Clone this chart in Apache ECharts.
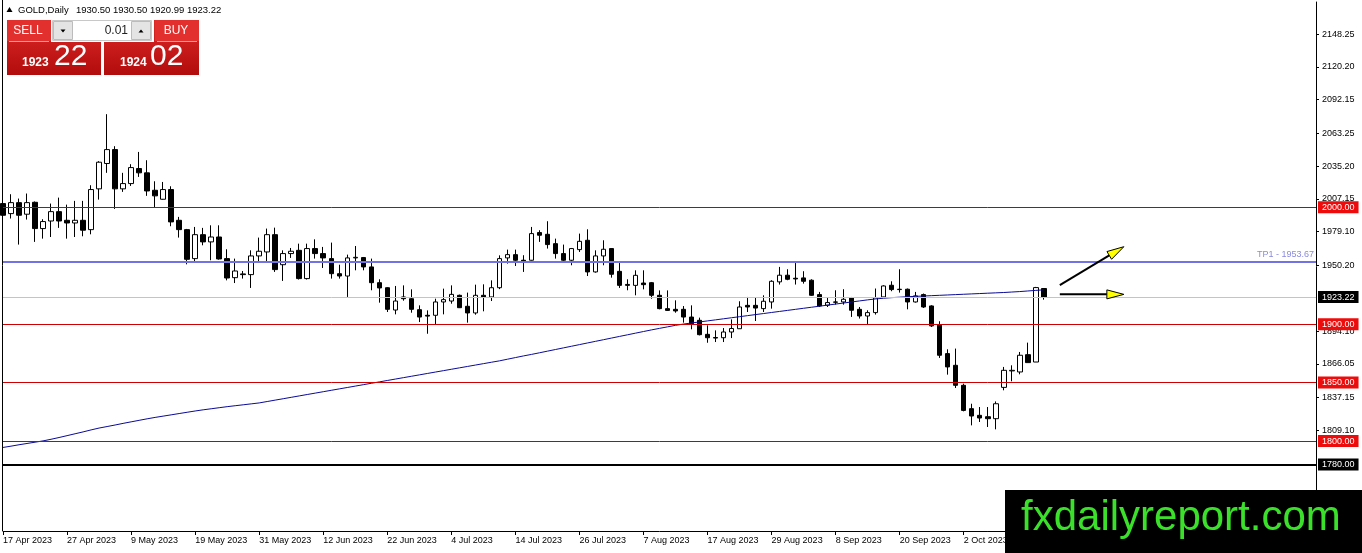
<!DOCTYPE html>
<html><head><meta charset="utf-8">
<script src="https://cdn.jsdelivr.net/npm/echarts@6/dist/echarts.min.js"></script>
<style>html,body{margin:0;padding:0;background:#fff}#c{width:1362px;height:553px}</style>
</head><body><div id="c"></div>
<script>
const dates = [
'17 Apr 2023','18 Apr 2023','19 Apr 2023','20 Apr 2023','21 Apr 2023','24 Apr 2023','25 Apr 2023','26 Apr 2023','27 Apr 2023','28 Apr 2023',
'1 May 2023','2 May 2023','3 May 2023','4 May 2023','5 May 2023','8 May 2023','9 May 2023','10 May 2023','11 May 2023','12 May 2023','15 May 2023','16 May 2023','17 May 2023','18 May 2023','19 May 2023','22 May 2023','23 May 2023','24 May 2023','25 May 2023','26 May 2023','29 May 2023','30 May 2023','31 May 2023',
'1 Jun 2023','2 Jun 2023','5 Jun 2023','6 Jun 2023','7 Jun 2023','8 Jun 2023','9 Jun 2023','12 Jun 2023','13 Jun 2023','14 Jun 2023','15 Jun 2023','16 Jun 2023','19 Jun 2023','20 Jun 2023','21 Jun 2023','22 Jun 2023','23 Jun 2023','26 Jun 2023','27 Jun 2023','28 Jun 2023','29 Jun 2023','30 Jun 2023',
'3 Jul 2023','4 Jul 2023','5 Jul 2023','6 Jul 2023','7 Jul 2023','10 Jul 2023','11 Jul 2023','12 Jul 2023','13 Jul 2023','14 Jul 2023','17 Jul 2023','18 Jul 2023','19 Jul 2023','20 Jul 2023','21 Jul 2023','24 Jul 2023','25 Jul 2023','26 Jul 2023','27 Jul 2023','28 Jul 2023','31 Jul 2023',
'1 Aug 2023','2 Aug 2023','3 Aug 2023','4 Aug 2023','7 Aug 2023','8 Aug 2023','9 Aug 2023','10 Aug 2023','11 Aug 2023','14 Aug 2023','15 Aug 2023','16 Aug 2023','17 Aug 2023','18 Aug 2023','21 Aug 2023','22 Aug 2023','23 Aug 2023','24 Aug 2023','25 Aug 2023','28 Aug 2023','29 Aug 2023','30 Aug 2023','31 Aug 2023',
'1 Sep 2023','4 Sep 2023','5 Sep 2023','6 Sep 2023','7 Sep 2023','8 Sep 2023','11 Sep 2023','12 Sep 2023','13 Sep 2023','14 Sep 2023','15 Sep 2023','18 Sep 2023','19 Sep 2023','20 Sep 2023','21 Sep 2023','22 Sep 2023','25 Sep 2023','26 Sep 2023','27 Sep 2023','28 Sep 2023','29 Sep 2023',
'2 Oct 2023','3 Oct 2023','4 Oct 2023','5 Oct 2023','6 Oct 2023','9 Oct 2023','10 Oct 2023','11 Oct 2023','12 Oct 2023','13 Oct 2023','16 Oct 2023'];
const emptySlots = 34; // blank space to the right of the last bar

const open = [2003.2,1994.6,2004.0,1994.1,2004.3,1981.8,1988.3,1996.3,1988.9,1986.6,
1988.9,1980.9,2015.8,2037.5,2049.4,2015.8,2020.3,2033.2,2029.5,2014.6,
2006.9,2015.2,1988.9,1980.9,1956.1,1976.6,1970.4,1974.6,1956.1,1939.8,
1943.0,1942.4,1958.4,1961.8,1976.6,1950.9,1960.4,1963.2,1939.0,1964.7,
1960.4,1956.1,1943.2,1941.2,1956.7,1957.0,1949.0,1935.5,1931.2,1912.1,
1923.3,1921.8,1912.4,1907.6,1907.6,1919.0,1919.8,1924.7,1915.3,1909.6,
1924.7,1923.3,1931.2,1956.7,1959.5,1954.7,1954.7,1978.4,1976.9,1968.9,
1960.4,1954.7,1963.8,1971.8,1944.7,1958.4,1964.7,1945.2,1934.0,1933.2,
1935.2,1935.5,1924.7,1913.3,1912.7,1912.7,1906.1,1903.3,1891.3,1888.6,
1888.4,1893.3,1896.1,1916.1,1916.1,1913.3,1919.0,1936.2,1941.9,1939.3,
1939.6,1937.6,1925.3,1916.2,1919.0,1919.0,1922.5,1912.7,1907.0,1909.9,
1923.3,1933.3,1929.9,1929.9,1919.0,1925.3,1915.6,1899.6,1874.8,1864.8,
1847.7,1827.7,1822.0,1820.8,1819.1,1845.9,1860.0,1859.1,1873.9,1867.6,
1930.50];
const close = [1993.2,2004.0,1993.2,2004.0,1981.8,1987.8,1996.3,1988.3,1986.6,1988.9,
1980.4,2015.2,2038.6,2049.4,2015.8,2020.3,2034.0,2029.5,2014.0,2009.8,
2015.2,1987.5,1980.9,1955.5,1976.6,1970.4,1974.6,1955.8,1939.5,1945.5,
1942.4,1958.4,1962.4,1976.6,1946.7,1960.4,1962.4,1939.0,1964.7,1960.4,
1956.7,1943.2,1941.2,1956.7,1957.2,1949.0,1935.5,1931.0,1912.7,1919.8,
1921.8,1912.7,1906.1,1906.9,1919.0,1921.0,1925.5,1914.1,1909.6,1924.7,
1923.3,1931.2,1956.1,1959.5,1954.7,1954.1,1977.5,1976.1,1968.1,1960.4,
1954.7,1964.7,1970.9,1944.7,1958.4,1964.1,1942.7,1933.2,1933.2,1941.8,
1933.8,1924.7,1913.3,1911.8,1911.3,1906.1,1900.4,1891.0,1888.4,1888.1,
1893.3,1896.3,1914.7,1914.7,1913.8,1919.6,1936.7,1941.9,1938.4,1938.7,
1936.7,1924.7,1915.6,1918.5,1918.8,1921.3,1911.9,1907.0,1909.9,1922.5,
1932.7,1929.6,1929.6,1919.0,1924.2,1914.7,1898.5,1873.4,1863.4,1847.7,
1826.2,1821.4,1819.7,1819.1,1831.9,1860.5,1860.5,1873.4,1867.1,1931.3,
1923.22];
const low = [1979.8,1990.4,1968.1,1989.5,1970.4,1973.2,1974.6,1982.4,1973.2,1974.6,
1975.2,1976.9,2006.6,2029.5,1998.6,2013.2,2018.3,2026.0,2009.8,1999.8,
2006.6,1983.8,1974.1,1951.2,1952.7,1967.5,1954.7,1955.2,1937.5,1935.2,
1939.0,1931.0,1952.7,1952.4,1944.7,1937.0,1956.7,1938.2,1938.2,1956.1,
1948.1,1939.0,1939.0,1923.3,1946.1,1946.1,1929.0,1918.4,1910.4,1908.4,
1920.1,1909.8,1901.8,1891.8,1899.8,1908.4,1917.5,1913.8,1901.3,1908.1,
1911.0,1919.8,1930.0,1951.8,1949.8,1944.7,1954.4,1970.4,1964.7,1956.1,
1952.7,1950.4,1961.8,1941.2,1944.1,1950.4,1939.8,1931.0,1929.0,1924.7,
1929.8,1921.8,1912.7,1911.5,1909.8,1901.3,1895.6,1890.4,1884.1,1884.7,
1884.7,1888.1,1896.0,1910.4,1902.7,1910.4,1913.3,1933.9,1937.6,1933.9,
1934.7,1924.2,1914.7,1914.7,1916.7,1916.7,1906.2,1904.8,1899.6,1908.2,
1922.5,1928.2,1927.0,1912.7,1918.5,1913.9,1897.6,1871.1,1856.8,1845.4,
1825.4,1813.4,1816.3,1812.0,1810.0,1843.4,1851.1,1857.1,1867.1,1867.6,
1920.99];
const high = [2015.2,2011.2,2007.5,2011.8,2005.0,1989.8,2003.2,2008.3,2002.3,2005.5,
2005.5,2018.9,2039.5,2079.7,2052.3,2029.5,2036.9,2047.4,2040.3,2022.3,
2021.7,2018.0,1991.8,1981.5,1983.2,1982.4,1984.6,1984.6,1964.1,1956.1,
1945.5,1963.2,1974.1,1981.8,1982.6,1963.2,1965.2,1968.9,1968.9,1972.6,
1966.1,1969.8,1950.9,1959.5,1966.9,1957.5,1956.1,1938.4,1931.6,1932.7,
1933.2,1929.8,1916.1,1911.8,1921.8,1930.4,1933.2,1925.3,1927.0,1933.8,
1934.1,1937.5,1958.9,1963.8,1963.8,1959.0,1983.2,1980.4,1988.1,1973.2,
1968.1,1965.2,1977.5,1981.2,1963.2,1971.8,1964.9,1953.2,1938.4,1946.1,
1946.1,1936.1,1928.9,1928.9,1920.4,1915.5,1916.1,1905.6,1899.0,1894.7,
1896.7,1904.1,1919.6,1923.3,1922.4,1924.7,1937.6,1949.0,1947.0,1952.7,
1945.3,1938.4,1927.6,1922.5,1929.0,1929.9,1923.3,1914.7,1911.9,1930.5,
1933.3,1936.7,1947.0,1930.5,1927.6,1926.2,1916.2,1902.5,1878.5,1879.1,
1849.1,1831.9,1829.1,1829.1,1833.9,1863.4,1864.8,1876.2,1884.2,1931.9,
1930.50];
const movingAverage = [1794.5,1795.6,1796.8,1797.9,1799.0,1800.1,1801.5,1803.0,1804.6,1806.2,
1807.8,1809.5,1811.1,1812.4,1813.7,1815.1,1816.4,1817.7,1819.0,1820.2,
1821.3,1822.4,1823.5,1824.6,1825.7,1826.7,1827.6,1828.5,1829.4,1830.2,
1831.0,1831.8,1832.6,1833.8,1835.0,1836.2,1837.4,1838.6,1839.8,1841.0,
1842.2,1843.4,1844.6,1845.8,1847.0,1848.2,1849.4,1850.6,1851.8,1853.0,
1854.2,1855.4,1856.6,1857.8,1859.0,1860.2,1861.4,1862.6,1863.8,1865.0,
1866.2,1867.4,1868.6,1870.0,1871.4,1872.8,1874.1,1875.5,1876.9,1878.3,
1879.7,1881.1,1882.5,1883.9,1885.3,1886.7,1888.1,1889.5,1890.9,1892.3,
1893.7,1895.1,1896.4,1897.7,1899.0,1900.1,1901.0,1901.9,1902.8,1903.7,
1904.6,1905.5,1906.4,1907.3,1908.2,1909.1,1910.0,1910.9,1911.8,1912.7,
1913.6,1914.5,1915.4,1916.3,1917.2,1918.1,1919.0,1919.9,1920.8,1921.6,
1922.2,1922.7,1923.1,1923.5,1923.8,1924.1,1924.4,1924.7,1925.0,1925.3,
1925.6,1925.9,1926.2,1926.5,1926.8,1927.1,1927.5,1927.9,1928.4,1928.9,
1929.4];

const yTicks = [2148.25, 2120.20, 2092.15, 2063.25, 2035.20, 2007.15, 1979.10, 1950.20, 1894.10, 1866.05, 1837.15, 1809.10];
const redLevels = [2000, 1900, 1850, 1800];
const tpLevel = 1953.67;
const tpText = 'TP1 - 1953.67';
const bidPrice = 1923.22;
const baseLevel = 1780;
// arrows: [fromBar, fromPrice, toBar, toPrice]
const arrows = [[132, 1933.5, 140, 1966.3], [132, 1925.5, 140, 1925.5]];
const headerSymbol = 'GOLD,Daily';
const headerPrices = '1930.50 1930.50 1920.99 1923.22';
const sellBig = '22', sellSmall = '1923', buyBig = '02', buySmall = '1924', lotSize = '0.01';
const watermark = 'fxdailyreport.com';

const FONT = 'Liberation Sans';
const categories = dates.concat(new Array(emptySlots).fill(''));
const ohlc = dates.map((d, i) => [open[i], close[i], low[i], high[i]]);

function boxLabel(bg) {
  return { show: true, position: 'end', distance: 2, color: '#fff', backgroundColor: bg,
    padding: [1, 4, 0, 4], fontSize: 9, lineHeight: 11, fontFamily: FONT,
    formatter: p => Number(p.value).toFixed(2) };
}
const markData = redLevels.map(v => ({ yAxis: v, lineStyle: { color: '#cc0000', width: 1, type: 'solid' }, label: boxLabel('#ee0b0b') }));
markData.push({ yAxis: tpLevel, lineStyle: { color: '#7272e4', width: 2, type: 'solid' },
  label: { show: true, position: 'insideEndTop', distance: 2, color: '#8a8ae0', fontSize: 9, fontFamily: FONT, formatter: tpText } });
markData.push({ yAxis: bidPrice, lineStyle: { color: '#c4c4c4', width: 1, type: 'solid' }, label: boxLabel('#000') });
markData.push({ yAxis: baseLevel, lineStyle: { color: '#000', width: 2, type: 'solid' }, label: boxLabel('#000') });

const chart = echarts.init(document.getElementById('c'), null, { renderer: 'canvas' });
const redGrad = { type: 'linear', x: 0, y: 0, x2: 0, y2: 1, colorStops: [{ offset: 0, color: '#dc2a28' }, { offset: 1, color: '#b20c0c' }] };

chart.setOption({
  animation: false,
  backgroundColor: '#fff',
  textStyle: { fontFamily: FONT },
  grid: { left: 3, right: 46, top: 2, bottom: 22, containLabel: false, outerBoundsMode: 'none' },
  xAxis: {
    type: 'category', data: categories, boundaryGap: false,
    axisLine: { show: true, lineStyle: { color: '#000', width: 1 } },
    axisTick: { show: true, interval: 7, length: 4, lineStyle: { color: '#000' } },
    axisLabel: { interval: 7, align: 'left', fontSize: 9, color: '#000', margin: 5, fontFamily: FONT },
    splitLine: { show: false }
  },
  yAxis: {
    type: 'value', position: 'right', min: 1723.0, max: 2175.7, scale: true,
    splitLine: { show: false },
    axisLine: { show: true, lineStyle: { color: '#000', width: 1 } },
    axisTick: { show: true, length: 3, customValues: yTicks, lineStyle: { color: '#000' } },
    axisLabel: { customValues: yTicks, formatter: v => Number(v).toFixed(2), fontSize: 9, color: '#000', margin: 6, fontFamily: FONT }
  },
  series: [
    {
      type: 'candlestick', data: ohlc, barWidth: 5, clip: true,
      itemStyle: { color: '#ffffff', color0: '#000000', borderColor: '#000000', borderColor0: '#000000', borderWidth: 1 },
      markLine: { silent: true, symbol: ['none', 'none'], animation: false, data: markData }
    },
    {
      type: 'line', data: movingAverage, showSymbol: false, symbol: 'none', clip: true,
      lineStyle: { color: '#0a0a96', width: 1 }, z: 3
    },
    {
      type: 'custom', data: arrows, encode: { x: [0, 2], y: [1, 3] }, clip: false, z: 10,
      renderItem: function (params, api) {
        const p0 = api.coord([api.value(0), api.value(1)]);
        const p1 = api.coord([api.value(2), api.value(3)]);
        const dx = p1[0] - p0[0], dy = p1[1] - p0[1];
        const len = Math.sqrt(dx * dx + dy * dy);
        const ux = dx / len, uy = dy / len;
        const hl = 17, hw = 4.5;
        const bx = p1[0] - ux * hl, by = p1[1] - uy * hl;
        const nx = -uy, ny = ux;
        return { type: 'group', children: [
          { type: 'line', shape: { x1: p0[0], y1: p0[1], x2: bx, y2: by }, style: { stroke: '#000', lineWidth: 2 } },
          { type: 'polygon', shape: { points: [[p1[0], p1[1]], [bx + nx * hw, by + ny * hw], [bx - nx * hw, by - ny * hw]] },
            style: { fill: '#ffff00', stroke: '#000', lineWidth: 1 } }
        ] };
      }
    }
  ],
  graphic: [
    { type: 'line', shape: { x1: 2.5, y1: 0, x2: 2.5, y2: 531 }, style: { stroke: '#000', lineWidth: 1 }, z: 50 },
    // header
    { type: 'polygon', shape: { points: [[6.5, 12], [12.5, 12], [9.5, 7]] }, style: { fill: '#000' }, z: 100 },
    { type: 'text', x: 18, y: 10.5, style: { text: headerSymbol, fill: '#000', font: '9.5px "Liberation Sans"', textVerticalAlign: 'middle' }, z: 100 },
    { type: 'text', x: 76, y: 10.5, style: { text: headerPrices, fill: '#000', font: '9.5px "Liberation Sans"', textVerticalAlign: 'middle' }, z: 100 },
    // one click panel
    { type: 'rect', shape: { x: 7, y: 20, width: 94, height: 55 }, style: { fill: redGrad }, z: 100 },
    { type: 'rect', shape: { x: 104, y: 20, width: 95, height: 55 }, style: { fill: redGrad }, z: 100 },
    { type: 'rect', shape: { x: 7, y: 20, width: 44, height: 21 }, style: { fill: '#e2302e' }, z: 101 },
    { type: 'rect', shape: { x: 155, y: 20, width: 44, height: 21 }, style: { fill: '#e2302e' }, z: 101 },
    { type: 'line', shape: { x1: 9, y1: 41.5, x2: 49, y2: 41.5 }, style: { stroke: '#f29a9a', lineWidth: 1 }, z: 102 },
    { type: 'line', shape: { x1: 157, y1: 41.5, x2: 197, y2: 41.5 }, style: { stroke: '#f29a9a', lineWidth: 1 }, z: 102 },
    { type: 'rect', shape: { x: 51, y: 19, width: 103, height: 23 }, style: { fill: '#ffffff' }, z: 101 },
    { type: 'rect', shape: { x: 52.5, y: 20.5, width: 99, height: 20 }, style: { fill: '#ffffff', stroke: '#c8c8c8', lineWidth: 1 }, z: 102 },
    { type: 'rect', shape: { x: 53.5, y: 21.5, width: 19, height: 18 }, style: { fill: '#e4e4e4', stroke: '#bcbcbc', lineWidth: 1 }, z: 103 },
    { type: 'rect', shape: { x: 131.5, y: 21.5, width: 19, height: 18 }, style: { fill: '#e4e4e4', stroke: '#bcbcbc', lineWidth: 1 }, z: 103 },
    { type: 'polygon', shape: { points: [[60.5, 29.5], [65.5, 29.5], [63, 32.5]] }, style: { fill: '#000' }, z: 104 },
    { type: 'polygon', shape: { points: [[138.5, 32.5], [143.5, 32.5], [141, 29.5]] }, style: { fill: '#000' }, z: 104 },
    { type: 'text', x: 128, y: 31, style: { text: lotSize, fill: '#222', font: '12px "Liberation Sans"', textAlign: 'right', textVerticalAlign: 'middle' }, z: 104 },
    { type: 'text', x: 28, y: 31, style: { text: 'SELL', fill: '#fff', font: '12px "Liberation Sans"', textAlign: 'center', textVerticalAlign: 'middle' }, z: 104 },
    { type: 'text', x: 176, y: 31, style: { text: 'BUY', fill: '#fff', font: '12px "Liberation Sans"', textAlign: 'center', textVerticalAlign: 'middle' }, z: 104 },
    { type: 'text', x: 22, y: 62.5, style: { text: sellSmall, fill: '#fff', font: 'bold 12px "Liberation Sans"', textVerticalAlign: 'middle' }, z: 104 },
    { type: 'text', x: 54, y: 57, style: { text: sellBig, fill: '#fff', font: '30px "Liberation Sans"', textVerticalAlign: 'middle' }, z: 104 },
    { type: 'text', x: 120, y: 62.5, style: { text: buySmall, fill: '#fff', font: 'bold 12px "Liberation Sans"', textVerticalAlign: 'middle' }, z: 104 },
    { type: 'text', x: 150, y: 57, style: { text: buyBig, fill: '#fff', font: '30px "Liberation Sans"', textVerticalAlign: 'middle' }, z: 104 },
    // watermark
    { type: 'rect', shape: { x: 1005, y: 490, width: 357, height: 63 }, style: { fill: '#000' }, z: 200 },
    { type: 'text', x: 1021, y: 518, style: { text: watermark, fill: '#3be02a', font: '42px "Liberation Sans"', textVerticalAlign: 'middle' }, z: 201 }
  ]
});
</script>
</body></html>
